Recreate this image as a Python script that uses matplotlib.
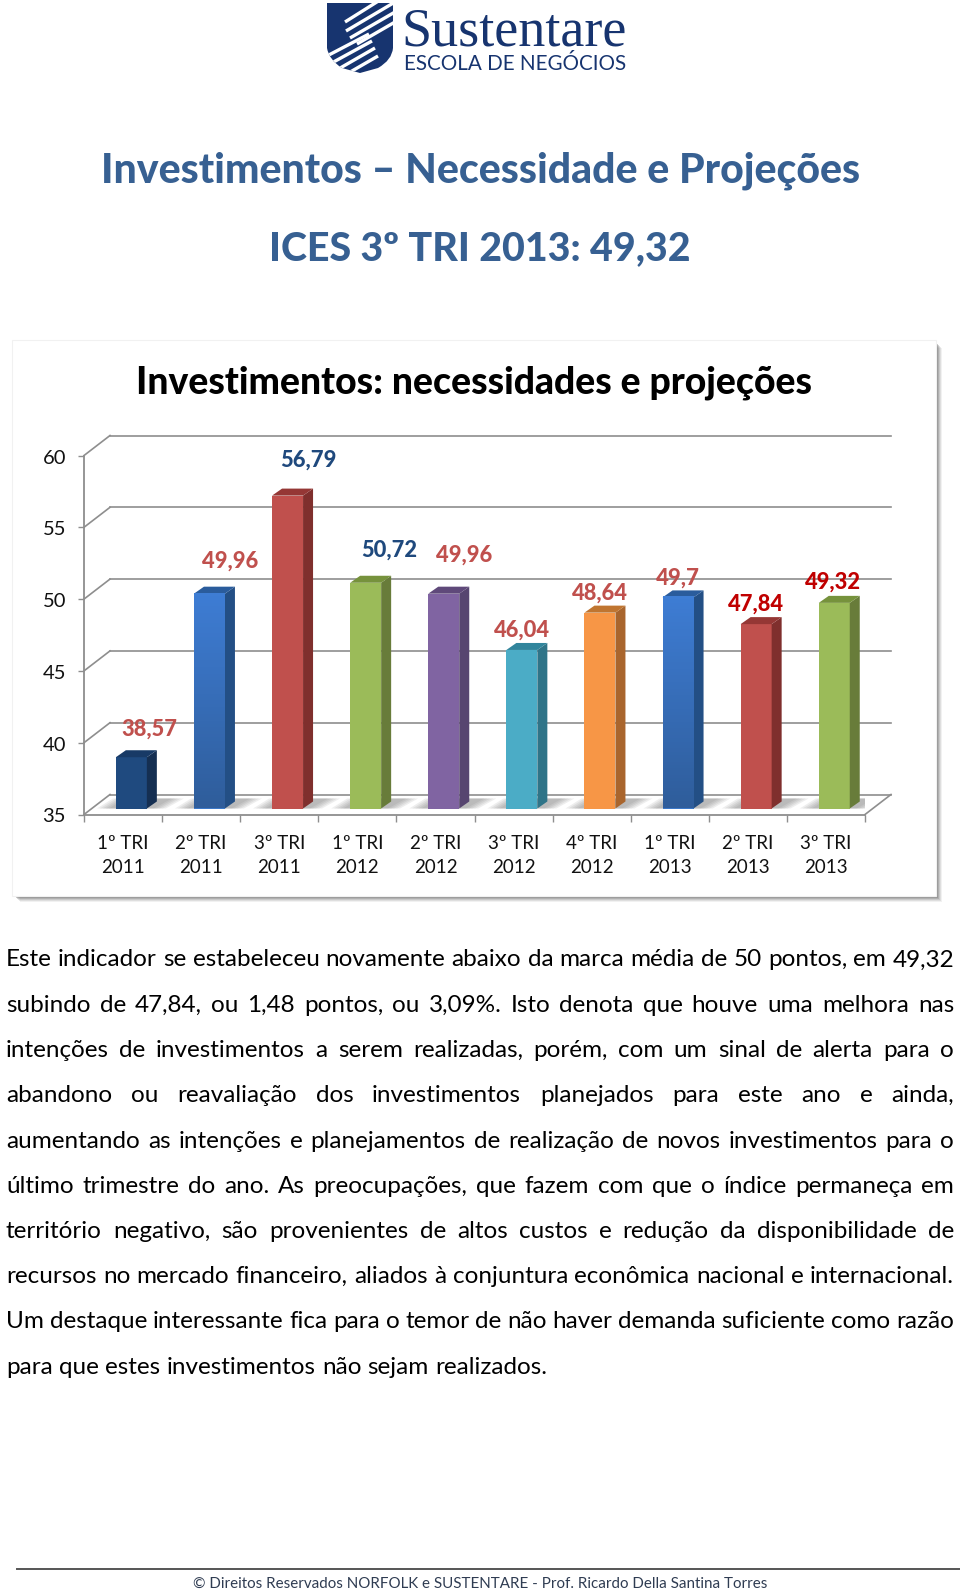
import numpy as np
import matplotlib
matplotlib.use('Agg')
import matplotlib.pyplot as plt
from matplotlib.patches import Polygon, Rectangle, PathPatch
from matplotlib.path import Path
from matplotlib.transforms import Affine2D

# Data
periods = ['1º TRI\n2011', '2º TRI\n2011', '3º TRI\n2011', '1º TRI\n2012', '2º TRI\n2012',
           '3º TRI\n2012', '4º TRI\n2012', '1º TRI\n2013', '2º TRI\n2013', '3º TRI\n2013']
values = [38.57, 49.96, 56.79, 50.72, 49.96, 46.04, 48.64, 49.7, 47.84, 49.32]
value_labels = ['38,57', '49,96', '56,79', '50,72', '49,96', '46,04', '48,64', '49,7', '47,84', '49,32']
y_ticks = [35, 40, 45, 50, 55, 60]

body_lines = [
    'Este indicador se estabeleceu novamente abaixo da marca média de 50 pontos, em 49,32',
    'subindo de 47,84, ou 1,48 pontos, ou 3,09%. Isto denota que houve uma melhora nas',
    'intenções de investimentos a serem realizadas, porém, com um sinal de alerta para o',
    'abandono ou reavaliação dos investimentos planejados para este ano e ainda,',
    'aumentando as intenções e planejamentos de realização de novos investimentos para o',
    'último trimestre do ano. As preocupações, que fazem com que o índice permaneça em',
    'território negativo, são provenientes de altos custos e redução da disponibilidade de',
    'recursos no mercado financeiro, aliados à conjuntura econômica nacional e internacional.',
    'Um destaque interessante fica para o temor de não haver demanda suficiente como razão',
    'para que estes investimentos não sejam realizados.',
]

# front, side, top colours of each bar
front_cols = ['#1f4a7f', '#3b78c9', '#c0504d', '#9bbb59', '#8064a2',
              '#4bacc6', '#f79646', '#3b78c9', '#c0504d', '#9bbb59']
side_cols = ['#152f52', '#234f85', '#7f2f2d', '#687c3a', '#574570',
             '#2f7488', '#a9652d', '#234f85', '#7f2f2d', '#687c3a']
top_cols = ['#183a66', '#2a5c9c', '#953735', '#76923c', '#5f497a',
            '#31859c', '#c07530', '#2a5c9c', '#953735', '#76923c']
label_cols = ['#c0504d', '#c0504d', '#1f497d', '#1f497d', '#c0504d',
              '#c0504d', '#c0504d', '#c0504d', '#c00000', '#c00000']
# label offset from the top centre of the bar, in pixels
label_dx = [18, 21, 21, 24, 20, 0, 0, 0, 0, -1]
label_dy = [30, 35, 37, 35, 41, 21.5, 21, 21, 21.6, 23]

FONT = 'Lato'
HEAVY = 900
GRID = '#8e8e8e'
TITLE_BLUE = '#376092'
NAVY = '#17346f'

fig = plt.figure(figsize=(9.6, 15.92), dpi=100, facecolor='white')
renderer = fig.canvas.get_renderer()

# page layer in pixel coordinates
page = fig.add_axes([0, 0, 1, 1], zorder=0)
page.set_xlim(0, 960)
page.set_ylim(1592, 0)
page.axis('off')


def text_width(s, size, **kw):
    t = page.text(0, 0, s, fontsize=size, family=FONT, **kw)
    w = t.get_window_extent(renderer).width
    t.remove()
    return w


def fit_size(s, width, **kw):
    return 20 * width / text_width(s, 20, **kw)


# Logo
shield = Path([(327, 3), (393, 3), (393, 48), (392, 60), (378, 68), (360, 73), (342, 68), (329, 60), (327, 48), (327, 3)],
              [Path.MOVETO, Path.LINETO, Path.LINETO, Path.CURVE3, Path.CURVE3, Path.LINETO, Path.LINETO, Path.CURVE3, Path.CURVE3, Path.CLOSEPOLY])
shield_patch = PathPatch(shield, fc=NAVY, ec='none')
page.add_patch(shield_patch)
for x0, y0, x1, y1 in [(345, 22, 380, 0), (346, 31, 395, 2), (350, 38, 395, 12), (357, 44, 395, 22),
                       (325, 57, 369, 34), (328, 65, 372, 41), (335, 71, 375, 48), (345, 75, 378, 56)]:
    line, = page.plot([x0, x1], [y0, y1], color='white', lw=2.4, solid_capstyle='butt')
    line.set_clip_path(shield_patch)
page.text(401, 46, 'Sustentare', family='Liberation Serif', color=NAVY, va='baseline',
          fontsize=39)
page.text(404, 69.5, 'ESCOLA DE NEGÓCIOS', family=FONT, color=NAVY, va='baseline',
          fontsize=fit_size('ESCOLA DE NEGÓCIOS', 222))

# Titles
title_1 = 'Investimentos – Necessidade e Projeções'
title_2 = 'ICES 3º TRI 2013: 49,32'
page.text(480.5, 183, title_1, family=FONT, weight=HEAVY, color=TITLE_BLUE, ha='center', va='baseline',
          fontsize=fit_size(title_1, 759, weight=HEAVY))
page.text(480, 260, title_2, family=FONT, weight=HEAVY, color=TITLE_BLUE, ha='center', va='baseline',
          fontsize=fit_size(title_2, 422, weight=HEAVY))

# Chart panel with its shadow
for k, a in zip([6, 5, 4, 3, 2], [0.10, 0.15, 0.2, 0.3, 0.4]):
    page.add_patch(Rectangle((14 + k, 342 + k), 922, 554, fc='#777777', ec='none', alpha=a))
page.add_patch(Rectangle((12, 340), 924, 556, fc='white', ec='#f1f1f1', lw=0.8))
chart_title = 'Investimentos: necessidades e projeções'
page.text(474, 393, chart_title, family=FONT, weight=HEAVY, color='black', ha='center', va='baseline',
          fontsize=fit_size(chart_title, 676, weight=HEAVY))

# Body text, justified word by word
body_size = fit_size(body_lines[0], 948)
space = text_width('a a', body_size) - text_width('aa', body_size)
for n, line in enumerate(body_lines):
    words = line.split(' ')
    widths = [text_width(w, body_size) for w in words]
    gap = space if n == len(body_lines) - 1 else (948 - sum(widths)) / (len(words) - 1)
    x = 6
    for w, width in zip(words, widths):
        page.text(x, 966.5 + n * 45.25, w, family=FONT, fontsize=body_size, color='black', va='baseline')
        x += width + gap

# Footer
page.plot([17, 960], [1569, 1569], color='#555555', lw=1.4)
footer = '© Direitos Reservados NORFOLK e SUSTENTARE - Prof. Ricardo Della Santina Torres'
page.text(480, 1588, footer, family=FONT, color='#2f3c52', ha='center', va='baseline',
          fontsize=fit_size(footer, 572))

# Chart axes, pixel extent 84..865 by 455..814
ax = fig.add_axes([84 / 960, (1592 - 814.5) / 1592, 781 / 960, 359 / 1592], zorder=1)
ax.patch.set_alpha(0)
ax.set_xlim(0, 10)
ax.set_ylim(35, 60)
px_x = 10 / 781
px_y = 25 / 359
depth_x = 26 * px_x
depth_y = 20 * px_y

# walls: grid lines at the back, diagonals to the axis
for tick in y_ticks:
    ax.plot([depth_x, 10 + depth_x], [tick + depth_y, tick + depth_y], color=GRID, lw=1.2, clip_on=False, zorder=1)
    ax.plot([0, depth_x], [tick, tick + depth_y], color=GRID, lw=1.2, clip_on=False, zorder=1)
ax.plot([10, 10 + depth_x], [35, 35 + depth_y], color=GRID, lw=1.2, clip_on=False, zorder=1)

x_pos = np.arange(len(values)) + 0.5
bar_x = x_pos + 8.3 * px_x
bar_w = 31 * px_x
base = 35 + 6 * px_y
side_x = 10 * px_x
side_y = 7 * px_y

# floor shadows
for bx in bar_x:
    for k in range(5):
        grow = (5 - k) * 3 * px_x
        ax.add_patch(Polygon([(bx - bar_w / 2 - 4 * px_x - grow, base),
                              (bx + bar_w / 2 + 4 * px_x + grow, base),
                              (bx + bar_w / 2 + 22 * px_x + grow, base + 10 * px_y),
                              (bx - bar_w / 2 + 12 * px_x - grow, base + 10 * px_y)],
                             fc='#666666', ec='none', alpha=0.11, zorder=2))

bars = ax.bar(bar_x, np.array(values) - 35, width=bar_w, bottom=base, color=front_cols, zorder=3)

for i, value in enumerate(values):
    left = bar_x[i] - bar_w / 2
    right = bar_x[i] + bar_w / 2
    top = base + value - 35
    ax.add_patch(Polygon([(right, base), (right + side_x, base + side_y), (right + side_x, top + side_y), (right, top)],
                         fc=side_cols[i], ec='none', zorder=3))
    ax.add_patch(Polygon([(left, top), (right, top), (right + side_x, top + side_y), (left + side_x, top + side_y)],
                         fc=top_cols[i], ec='none', zorder=3))
    # the blue bars fade towards the base
    if front_cols[i] == '#3b78c9':
        ramp = np.linspace(0, 1, 64).reshape(-1, 1, 1) * (np.array([47, 93, 155]) - np.array([62, 125, 212])) + np.array([62, 125, 212])
        ax.imshow(ramp.astype(np.uint8), extent=(left, right, base, top), origin='upper', aspect='auto', zorder=3.5)
    ax.text(bar_x[i] + label_dx[i] * px_x, top - 2 * px_y + label_dy[i] * px_y, value_labels[i], color=label_cols[i],
            family=FONT, weight=HEAVY, fontsize=fit_size(value_labels[i], 56 if value_labels[i] != '49,7' else 44, weight=HEAVY),
            ha='center', va='center', zorder=5)

ax.set_xlim(0, 10)
ax.set_ylim(35, 60)

# axes
for name in ['top', 'right']:
    ax.spines[name].set_visible(False)
for name in ['left', 'bottom']:
    ax.spines[name].set_color(GRID)
    ax.spines[name].set_linewidth(1.3)
ax.set_yticks(y_ticks)
ax.set_yticklabels([str(t) for t in y_ticks], family=FONT, fontsize=14.5, color='#111111')
ax.tick_params(axis='y', length=4.5, width=1, color=GRID, pad=8.5)
for label in ax.get_yticklabels():
    label.set_transform(label.get_transform() + Affine2D().translate(0, -1))
ax.set_xticks(np.arange(0, 11))
ax.set_xticklabels([])
ax.tick_params(axis='x', which='major', length=5, width=1, color=GRID)
ax.set_xticks(x_pos, minor=True)
ax.set_xticklabels(periods, minor=True, family=FONT, fontsize=13.5, color='#111111', linespacing=1.55)
ax.tick_params(axis='x', which='minor', length=0, pad=14.5)

fig.savefig('out.png', dpi=100)
